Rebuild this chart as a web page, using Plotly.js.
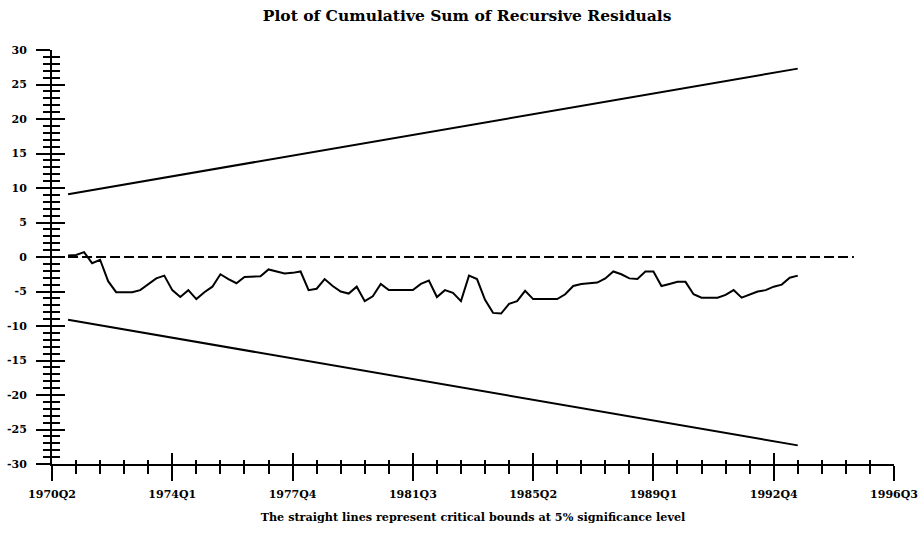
<!DOCTYPE html>
<html><head><meta charset="utf-8">
<script src="https://cdn.plot.ly/plotly-3.0.1.min.js"></script>
<style>html,body{margin:0;padding:0;background:#fff}#chart{width:919px;height:536px}</style>
</head><body><div id="chart"></div>
<script>
// Quarterly categories 1970Q2 .. 1996Q3
const quarters = (function () {
  const q = []; let y = 1970, k = 2;
  for (let i = 0; i < 106; i++) { q.push(y + 'Q' + k); k++; if (k > 4) { k = 1; y++; } }
  return q;
})();

const tickLabels = ['1970Q2', '1974Q1', '1977Q4', '1981Q3', '1985Q2', '1989Q1', '1992Q4', '1996Q3'];
const yTickValues = [-30, -25, -20, -15, -10, -5, 0, 5, 10, 15, 20, 25, 30];
const yTickLabels = ['-30', '-25', '-20', '-15', '-10', '-5', '0', '5', '10', '15', '20', '25', '30'];

const cusumStart = '1970Q4';
const cusum = [
  0.2, 0.3, 0.7, -0.9, -0.4, -3.5, -5.1, -5.1, -5.1, -4.8,
  -4.0, -3.1, -2.7, -4.8, -5.8, -4.8, -6.1, -5.1, -4.3, -2.5,
  -3.2, -3.8, -2.9, -2.8, -2.8, -1.8, -2.1, -2.4, -2.3, -2.1,
  -4.8, -4.6, -3.2, -4.2, -5.0, -5.3, -4.3, -6.4, -5.7, -3.9,
  -4.8, -4.8, -4.8, -4.8, -3.9, -3.4, -5.8, -4.8, -5.2, -6.4,
  -2.7, -3.2, -6.2, -8.1, -8.2, -6.8, -6.4, -4.9, -6.1, -6.1,
  -6.1, -6.1, -5.4, -4.2, -3.9, -3.8, -3.7, -3.1, -2.1, -2.5,
  -3.1, -3.2, -2.1, -2.1, -4.2, -3.9, -3.6, -3.6, -5.4, -5.9,
  -5.9, -5.9, -5.5, -4.8, -5.9, -5.5, -5.0, -4.8, -4.3, -4.0,
  -3.0, -2.7
];

const boundQuarters = ['1970Q4', '1993Q3'];
const upperBound = [9.1, 27.3];
const lowerBound = [-9.1, -27.3];

const zeroQuarters = ['1970Q4', '1995Q2'];
const zeroValues = [0, 0];

const pos = q => quarters.indexOf(q);
const startIdx = pos(cusumStart);
const cusumX = cusum.map((_, i) => startIdx + i);

const FONT = 'DejaVu Serif';

const traces = [
  { x: zeroQuarters.map(pos), y: zeroValues, mode: 'lines', xaxis: 'x', yaxis: 'y',
    line: { color: '#000', width: 2, dash: '10px,4px' }, hoverinfo: 'skip' },
  { x: cusumX, y: cusum, mode: 'lines', xaxis: 'x', yaxis: 'y',
    line: { color: '#000', width: 2 } },
  { x: boundQuarters.map(pos), y: upperBound, mode: 'lines', xaxis: 'x2', yaxis: 'y2',
    line: { color: '#000', width: 2 } },
  { x: boundQuarters.map(pos), y: lowerBound, mode: 'lines', xaxis: 'x2', yaxis: 'y2',
    line: { color: '#000', width: 2 } }
];

const xr = [0, quarters.length - 1];
const yr = [-30, 30];
const tickIdx = tickLabels.map(pos);

const layout = {
  width: 919, height: 536,
  margin: { l: 52, r: 25, t: 50, b: 72 },
  paper_bgcolor: '#fff', plot_bgcolor: '#fff',
  showlegend: false,
  font: { family: FONT, color: '#000', size: 12 },
  title: { text: 'Plot of Cumulative Sum of Recursive Residuals',
    font: { family: FONT, size: 15.5, weight: 'bold', color: '#000' },
    x: 0.493, xref: 'paper', xanchor: 'center', y: 1 - 16 / 536, yref: 'container', yanchor: 'middle' },
  xaxis: {
    range: xr, fixedrange: true, showgrid: false, zeroline: false,
    showline: true, linecolor: '#000', linewidth: 2,
    tickmode: 'array', tickvals: tickIdx, ticktext: tickLabels,
    ticks: 'outside', ticklen: 15, tickwidth: 2, tickcolor: '#000',
    ticklabelstandoff: 4,
    tickfont: { family: FONT, size: 11, weight: 'bold' },
    minor: { tickmode: 'linear', tick0: 0, dtick: 3, ticks: 'outside', ticklen: 8, tickwidth: 2, tickcolor: '#000', showgrid: false },
    title: { text: 'The straight lines represent critical bounds at 5% significance level',
      font: { family: FONT, size: 11.2, weight: 'bold' }, standoff: 13 }
  },
  yaxis: {
    range: yr, fixedrange: true, showgrid: false, zeroline: false,
    showline: true, linecolor: '#000', linewidth: 2,
    tickmode: 'array', tickvals: yTickValues, ticktext: yTickLabels,
    ticks: 'outside', ticklen: 14, tickwidth: 2, tickcolor: '#000',
    ticklabelstandoff: 7,
    tickfont: { family: FONT, size: 11, weight: 'bold' },
    minor: { tickmode: 'linear', tick0: 0, dtick: 1, ticks: 'outside', ticklen: 7, tickwidth: 2, tickcolor: '#000', showgrid: false }
  },
  xaxis2: {
    overlaying: 'x', anchor: 'y2', side: 'bottom', range: xr, fixedrange: true,
    showgrid: false, zeroline: false, showline: false, showticklabels: false,
    tickmode: 'array', tickvals: tickIdx,
    ticks: 'inside', ticklen: 11, tickwidth: 2, tickcolor: '#000',
    minor: { tickmode: 'linear', tick0: 0, dtick: 3, ticks: 'inside', ticklen: 4, tickwidth: 2, tickcolor: '#000', showgrid: false }
  },
  yaxis2: {
    overlaying: 'y', anchor: 'x2', side: 'left', range: yr, fixedrange: true,
    showgrid: false, zeroline: false, showline: false, showticklabels: false,
    tickmode: 'array', tickvals: yTickValues,
    ticks: 'inside', ticklen: 13, tickwidth: 2, tickcolor: '#000',
    minor: { tickmode: 'linear', tick0: 0, dtick: 1, ticks: 'inside', ticklen: 8, tickwidth: 2, tickcolor: '#000', showgrid: false }
  }
};

Plotly.newPlot('chart', traces, layout, { displayModeBar: false, staticPlot: true });
</script>
</body></html>
